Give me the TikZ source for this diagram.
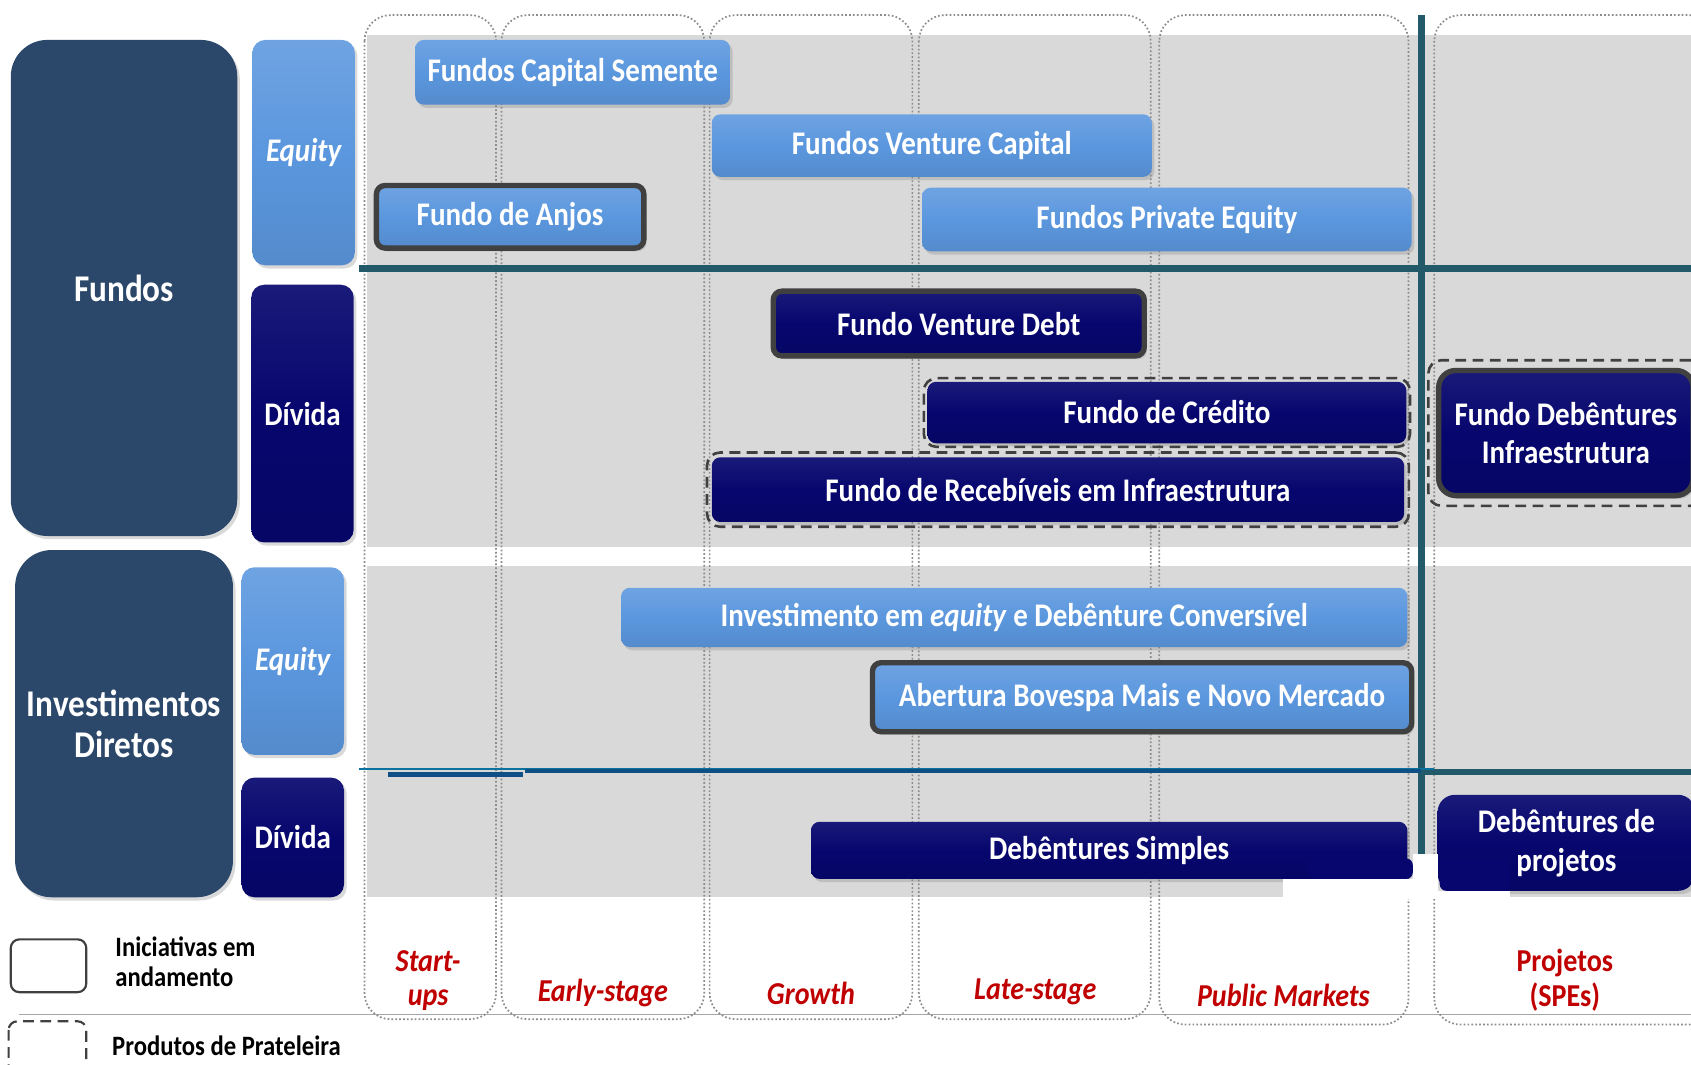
\documentclass[tikz,border=0pt]{standalone}
\usepackage{fontspec}
\setmainfont{Carlito}[FakeStretch=0.88]
\usetikzlibrary{positioning,fit,shadows}

\definecolor{slate}{HTML}{2B4769}
\definecolor{lblue}{HTML}{5B97DE}
\definecolor{navy}{HTML}{06066E}
\definecolor{tealline}{HTML}{225A69}
\definecolor{band}{HTML}{D9D9D9}
\definecolor{stage}{HTML}{C00000}
\definecolor{rim}{HTML}{404040}
\definecolor{colline}{HTML}{8C8C8C}
\definecolor{rule}{HTML}{0E4F86}

\begin{document}
\begin{tikzpicture}[x=0.5pt, y=-0.5pt,
    box/.style={rounded corners=4pt, text=white, align=center, inner sep=0pt,
        font=\fontsize{15.3}{18}\selectfont\bfseries,
        drop shadow={shadow xshift=1.2pt, shadow yshift=-1.5pt, opacity=0.3}},
    eqbox/.style={box, top color=lblue!88!white, bottom color=lblue!92!black, middle color=lblue},
    dvbox/.style={box, top color=navy!92!white, bottom color=navy!92!black, middle color=navy},
    bigbox/.style={box, rounded corners=17pt, fill=slate, font=\fontsize{17.5}{19}\selectfont\bfseries},
    ongoing/.style={draw=rim, line width=2.5pt},
    shelf/.style={draw=rim, line width=1.2pt, dash pattern=on 5pt off 3pt, rounded corners=6pt, inner sep=2pt},
    stagecol/.style={draw=colline, densely dotted, line width=0.8pt, rounded corners=12pt},
    stagelbl/.style={text=stage, align=center, font=\fontsize{14.8}{16}\selectfont\bfseries\itshape},
    legtxt/.style={anchor=west, align=left, font=\fontsize{13}{14}\selectfont\bfseries}]

    \useasboundingbox (0,0) rectangle (1568,987.5);

    \fill[band] (340,32) rectangle (1568,507);
    \fill[band] (340,525) rectangle (1568,832);
    \draw[gray!70, line width=0.6pt] (18,941) -- (1568,941);

    \draw[stagecol] (338,14) rectangle (460,945);
    \draw[stagecol] (465,14) rectangle (653,945);
    \draw[stagecol] (658,14) rectangle (846,945);
    \draw[stagecol] (852,14) rectangle (1067,945);
    \draw[stagecol] (1075,14) rectangle (1306,950);
    \draw[stagecol] (1330,14) rectangle (1590,950);

    \draw[tealline, line width=3pt] (333,249) -- (1568,249);
    \draw[tealline, line width=3pt] (1318,14) -- (1318,792);
    \draw[tealline, line width=3pt] (1318,716) -- (1568,716);
    \draw[rule!80!cyan, line width=0.6pt] (333,713) -- (1330,713);
    \draw[rule, line width=2pt] (360,718) -- (485,718);
    \draw[rule, line width=2pt] (487,715) -- (1318,715);

    \node[bigbox, minimum width=105pt, minimum height=230pt] (fundos) at (115,267) {Fundos};
    \node[eqbox, rounded corners=6pt, minimum width=47.5pt, minimum height=104.5pt] (eqtop) at (281.5,141.5) {\itshape Equity};
    \node[dvbox, rounded corners=6pt, minimum width=47.5pt, minimum height=119.5pt] (dvtop) at (280.5,383.5) {Dívida};
    \node[bigbox, minimum width=101pt, minimum height=161pt] (diretos) at (115,671) {Investimentos\\Diretos};
    \node[eqbox, rounded corners=6pt, minimum width=47.5pt, minimum height=87pt] (eqbot) at (271.5,613) {\itshape Equity};
    \node[dvbox, rounded corners=6pt, minimum width=47.5pt, minimum height=55.5pt] (dvbot) at (271.5,776.5) {Dívida};

    \node[eqbox, minimum width=146pt, minimum height=30pt] (semente) at (531,67) {Fundos Capital Semente};
    \node[eqbox, minimum width=204pt, minimum height=29pt] (venture) at (864,135) {Fundos Venture Capital};
    \node[eqbox, ongoing, minimum width=124pt, minimum height=29pt] (anjos) at (473,201) {Fundo de Anjos};
    \node[eqbox, minimum width=227pt, minimum height=29.5pt] (private) at (1082,203.5) {Fundos Private Equity};

    \node[dvbox, ongoing, minimum width=172pt, minimum height=30pt] (vdebt) at (889,300) {Fundo Venture Debt};
    \node[dvbox, minimum width=222pt, minimum height=28.5pt] (credito) at (1082,382.5) {Fundo de Crédito};
    \node[dvbox, minimum width=321pt, minimum height=30pt] (receb) at (981,454) {Fundo de Recebíveis em Infraestrutura};
    \node[dvbox, ongoing, rounded corners=8pt, minimum width=118pt, minimum height=58pt] (debinfra) at (1452,401.5) {Fundo Debêntures\\Infraestrutura};
    \node[shelf, inner sep=1.5pt, fit=(credito)] (credshelf) {};
    \node[shelf, fit=(receb)] (recebshelf) {};
    \node[shelf, inner sep=3.5pt, fit=(debinfra)] (infrashelf) {};

    \node[eqbox, minimum width=364.5pt, minimum height=27.5pt] (conversivel) at (940.5,572.5) {Investimento em \textit{equity} e Debênture Conversível};
    \node[eqbox, ongoing, minimum width=250pt, minimum height=32pt] (bovespa) at (1059,646.5) {Abertura Bovespa Mais e Novo Mercado};

    \node[dvbox, minimum width=276.5pt, minimum height=26.5pt] (simples) at (1028.5,788.5) {Debêntures Simples};
    \node[dvbox, rounded corners=8pt, minimum width=119.5pt, minimum height=44.5pt] (projetos) at (1452.5,781.5) {Debêntures de\\projetos};

    \fill[white] (1190,815) rectangle (1333,834);
    \fill[white] (1310,792) rectangle (1333,834);
    \fill[white] (1333,826) rectangle (1400,834);
    \fill[navy, rounded corners=3pt] (1213,815) -- (1213,796) -- (1310,796) -- (1310,815) -- cycle;
    \fill[navy, rounded corners=3pt] (1335,826) -- (1335,796) -- (1400,796) -- (1400,826) -- cycle;

    \node[stagelbl] (startups) at (397,909) {Start-\\ups};
    \node[stagelbl] (early) at (559,921) {Early-stage};
    \node[stagelbl] (growth) at (752,921) {Growth};
    \node[stagelbl] (late) at (960,920) {Late-stage};
    \node[stagelbl] (public) at (1190,923) {Public Markets};
    \node[stagelbl, font=\fontsize{14.8}{16}\selectfont\bfseries] (spes) at (1451,909) {Projetos\\(SPEs)};

    \draw[rim, line width=1pt, rounded corners=4pt] (10,871) rectangle (80,920);
    \node[legtxt] (legongoing) at (100,892) {Iniciativas em\\andamento};
    \draw[rim, line width=1pt, dash pattern=on 5pt off 3pt, rounded corners=4pt] (8,947) rectangle (80,1000);
    \node[legtxt] (legshelf) at (97,970) {Produtos de Prateleira};
\end{tikzpicture}
\end{document}
